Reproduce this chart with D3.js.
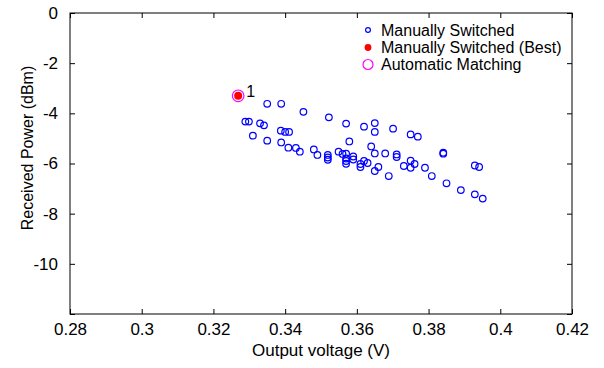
<!DOCTYPE html>
<html>
<head>
<meta charset="utf-8">
<script src="https://cdn.jsdelivr.net/npm/d3@7"></script>
<style>
  body { margin: 0; background: #fff; }
  svg { display: block; font-family: "Liberation Sans", Arial, sans-serif; }
</style>
</head>
<body>
<div class="chart"></div>
<script>
// output voltage (V) vs received power (dBm)
var manualX = [0.3350, 0.3389, 0.3451, 0.3522, 0.3570, 0.3289, 0.3299, 0.3330, 0.3341, 0.3388,
  0.3400, 0.3411, 0.3310, 0.3350, 0.3389, 0.3409, 0.3430, 0.3441, 0.3480, 0.3490,
  0.3519, 0.3519, 0.3519, 0.3549, 0.3560, 0.3570, 0.3570, 0.3570, 0.3570, 0.3579,
  0.3620, 0.3650, 0.3650, 0.3701, 0.3750, 0.3770, 0.3640, 0.3590, 0.3590, 0.3610,
  0.3610, 0.3620, 0.3630, 0.3650, 0.3679, 0.3711, 0.3711, 0.3660, 0.3650, 0.3689,
  0.3731, 0.3750, 0.3761, 0.3750, 0.3790, 0.3809, 0.3841, 0.3841, 0.3850, 0.3890,
  0.3929, 0.3941, 0.3929, 0.3951];
var manualY = [-3.62, -3.62, -3.94, -4.16, -4.41, -4.33, -4.33, -4.40, -4.48, -4.69,
  -4.74, -4.74, -4.89, -5.09, -5.16, -5.37, -5.38, -5.53, -5.44, -5.66,
  -5.66, -5.76, -5.85, -5.53, -5.62, -5.61, -5.80, -5.90, -6.01, -5.12,
  -4.53, -4.39, -4.74, -4.61, -4.84, -4.93, -5.32, -5.72, -5.84, -6.02,
  -6.14, -5.90, -5.98, -5.60, -5.60, -5.64, -5.74, -6.14, -6.30, -6.50,
  -6.10, -5.89, -6.02, -6.17, -6.17, -6.50, -5.57, -5.61, -6.79, -7.06,
  -6.08, -6.14, -7.23, -7.40];
var bestX = [0.3269];
var bestY = [-3.30];
var autoX = [0.3269];
var autoY = [-3.30];
var xTicks = [0.28, 0.3, 0.32, 0.34, 0.36, 0.38, 0.4, 0.42];
var yTicks = [0, -2, -4, -6, -8, -10, -12];
var yLabels = ['0', '-2', '-4', '-6', '-8', '-10', ''];
var legendNames = ['Manually Switched', 'Manually Switched (Best)', 'Automatic Matching'];

var width = 604, height = 368;
var mLeft = 70, mRight = 572, mTop = 13, mBottom = 314;

var x = d3.scaleLinear().domain([0.28, 0.42]).range([mLeft, mRight]);
var y = d3.scaleLinear().domain([-12, 0]).range([mBottom, mTop]);

var svg = d3.select('.chart').append('svg')
  .attr('width', width).attr('height', height);

// box
svg.append('rect')
  .attr('x', mLeft).attr('y', mTop)
  .attr('width', mRight - mLeft).attr('height', mBottom - mTop)
  .attr('fill', 'none').attr('stroke', '#000').attr('stroke-width', 1);

// axes, ticks pointing inwards on all four sides
function styleAxis(g) {
  g.select('.domain').remove();
  g.selectAll('text').attr('fill', '#000').style('font-size', '17px');
  g.selectAll('line').attr('stroke', '#000');
}
svg.append('g').attr('transform', `translate(0,${mBottom})`)
  .call(d3.axisBottom(x).tickValues(xTicks).tickSizeInner(-5).tickSizeOuter(0)
    .tickPadding(9).tickFormat(d3.format('')))
  .call(styleAxis);
svg.append('g').attr('transform', `translate(0,${mTop})`)
  .call(d3.axisTop(x).tickValues(xTicks).tickSizeInner(-5).tickSizeOuter(0).tickFormat(''))
  .call(styleAxis);
svg.append('g').attr('transform', `translate(${mLeft},0)`)
  .call(d3.axisLeft(y).tickValues(yTicks).tickSizeInner(-5).tickSizeOuter(0)
    .tickPadding(12).tickFormat((d, i) => yLabels[i]))
  .call(styleAxis);
svg.append('g').attr('transform', `translate(${mRight},0)`)
  .call(d3.axisRight(y).tickValues(yTicks).tickSizeInner(-5).tickSizeOuter(0).tickFormat(''))
  .call(styleAxis);

// axis titles
svg.append('text')
  .attr('x', (mLeft + mRight) / 2).attr('y', 356)
  .attr('text-anchor', 'middle').style('font-size', '17px')
  .text('Output voltage (V)');
svg.append('text')
  .attr('transform', 'translate(33,148) rotate(-90)')
  .attr('text-anchor', 'middle').style('font-size', '16px')
  .text('Received Power (dBm)');

// manual points
svg.append('g').selectAll('circle')
  .data(manualX.map((v, i) => [v, manualY[i]]))
  .enter().append('circle')
    .attr('cx', d => x(d[0])).attr('cy', d => y(d[1]))
    .attr('r', 3.3)
    .attr('fill', 'none').attr('stroke', '#0000ff').attr('stroke-width', 1.2);

// best
svg.append('g').selectAll('circle')
  .data(bestX.map((v, i) => [v, bestY[i]]))
  .enter().append('circle')
    .attr('cx', d => x(d[0])).attr('cy', d => y(d[1]))
    .attr('r', 4).attr('fill', '#ff0000');

// automatic
svg.append('g').selectAll('circle')
  .data(autoX.map((v, i) => [v, autoY[i]]))
  .enter().append('circle')
    .attr('cx', d => x(d[0])).attr('cy', d => y(d[1]))
    .attr('r', 5.8)
    .attr('fill', 'none').attr('stroke', '#ff00ff').attr('stroke-width', 1.2);

svg.append('text')
  .attr('x', x(bestX[0]) + 8).attr('y', y(bestY[0]) + 1)
  .style('font-size', '16px')
  .text('1');

// legend
var lg = svg.append('g');
var rows = [30, 47.5, 64.5];
lg.append('circle').attr('cx', 368).attr('cy', rows[0]).attr('r', 2.4)
  .attr('fill', 'none').attr('stroke', '#0000ff').attr('stroke-width', 1.2);
lg.append('circle').attr('cx', 368).attr('cy', rows[1]).attr('r', 3.4)
  .attr('fill', '#ff0000');
lg.append('circle').attr('cx', 368).attr('cy', rows[2]).attr('r', 5)
  .attr('fill', 'none').attr('stroke', '#ff00ff').attr('stroke-width', 1.2);
lg.selectAll('text')
  .data(legendNames)
  .enter().append('text')
    .attr('x', 381).attr('y', (d, i) => rows[i])
    .attr('dy', '0.35em')
    .style('font-size', '16px')
    .text(d => d);
</script>
</body>
</html>
